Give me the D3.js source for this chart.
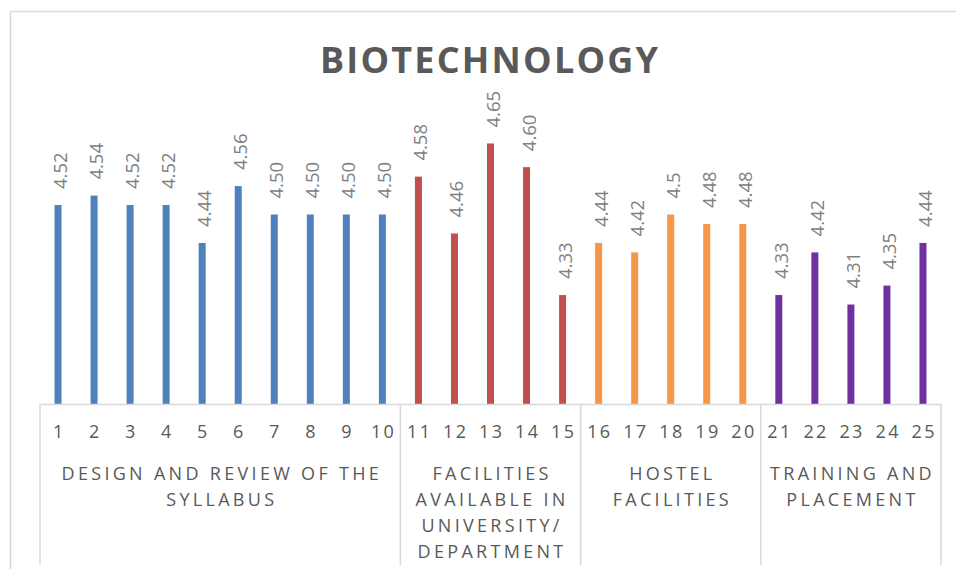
<!DOCTYPE html>
<html>
<head>
<meta charset="utf-8">
<script src="https://cdn.jsdelivr.net/npm/d3@7"></script>
<style>
  html, body { margin: 0; padding: 0; background: #ffffff; }
  svg { display: block; }
  text { font-family: "Open Sans", "Liberation Sans", sans-serif; }
</style>
</head>
<body>
<svg id="chart" width="956" height="569"></svg>
<script>
// ---- data ----
const title = "BIOTECHNOLOGY";
const categories = ["1","2","3","4","5","6","7","8","9","10","11","12","13","14","15","16","17","18","19","20","21","22","23","24","25"];
const values = [4.52,4.54,4.52,4.52,4.44,4.56,4.50,4.50,4.50,4.50,4.58,4.46,4.65,4.60,4.33,4.44,4.42,4.5,4.48,4.48,4.33,4.42,4.31,4.35,4.44];
const valueLabels = ["4.52","4.54","4.52","4.52","4.44","4.56","4.50","4.50","4.50","4.50","4.58","4.46","4.65","4.60","4.33","4.44","4.42","4.5","4.48","4.48","4.33","4.42","4.31","4.35","4.44"];
const groupNames = [
  ["DESIGN AND REVIEW OF THE", "SYLLABUS"],
  ["FACILITIES", "AVAILABLE IN", "UNIVERSITY/", "DEPARTMENT"],
  ["HOSTEL", "FACILITIES"],
  ["TRAINING AND", "PLACEMENT"]
];
const groupSizes = [10, 5, 5, 5];
const groupColors = ["#4f81bd", "#c0504d", "#f79646", "#7030a0"];
const yDomain = [4.1, 4.7];

// ---- layout ----
const svg = d3.select("#chart");
const axisY = 404;
const x = d3.scaleBand().domain(categories).range([40, 941]).paddingInner(0).paddingOuter(0);
const y = d3.scaleLinear().domain(yDomain).range([axisY, axisY - 0.6 * 473.7]);

// group index per category
const groupOf = [];
groupSizes.forEach((n, gi) => { for (let i = 0; i < n; i++) groupOf.push(gi); });

// chart border (top + left visible)
svg.append("path")
  .attr("d", "M10.5,569 L10.5,11.5 L956,11.5")
  .attr("fill", "none").attr("stroke", "#d9d9d9").attr("stroke-width", 1.5);

// title
svg.append("text")
  .attr("x", 489).attr("y", 72.5)
  .attr("text-anchor", "middle")
  .attr("font-size", 36).attr("font-weight", 700)
  .attr("fill", "#595959")
  .attr("textLength", 338).attr("lengthAdjust", "spacing")
  .text(title);

// bars
const barW = 7;
svg.append("g").selectAll("rect")
  .data(values)
  .join("rect")
  .attr("x", (d, i) => x(categories[i]) + x.bandwidth() / 2 - barW / 2)
  .attr("y", d => y(d))
  .attr("width", barW)
  .attr("height", d => axisY - y(d))
  .attr("fill", (d, i) => groupColors[groupOf[i]]);

// value labels (rotated)
svg.append("g").selectAll("text")
  .data(values)
  .join("text")
  .attr("transform", (d, i) => `translate(${x(categories[i]) + x.bandwidth() / 2 + 1.5},${y(d) - 16}) rotate(-90)`)
  .attr("text-anchor", "start")
  .attr("dominant-baseline", "central")
  .attr("font-size", 18.5)
  .attr("fill", "#808080")
  .text((d, i) => valueLabels[i]);

// category axis (numbers)
const axis = d3.axisBottom(x).tickSize(0).tickPadding(0).tickSizeOuter(0);
const gAxis = svg.append("g").attr("transform", `translate(0,${axisY})`).call(axis);
gAxis.select(".domain").attr("stroke", "#d9d9d9").attr("stroke-width", 1.5);
gAxis.selectAll(".tick text")
  .attr("y", 34)
  .attr("dy", 0)
  .attr("dx", 1.2)
  .attr("font-family", "'Open Sans', sans-serif")
  .attr("font-size", 18)
  .attr("letter-spacing", "2.4px")
  .attr("fill", "#595959");

// group separators
const bounds = [0];
groupSizes.forEach(n => bounds.push(bounds[bounds.length - 1] + n));
const sepX = bounds.map(b => b < categories.length ? x(categories[b]) : x(categories[categories.length - 1]) + x.bandwidth());
svg.append("g").selectAll("line")
  .data(sepX)
  .join("line")
  .attr("x1", d => d).attr("x2", d => d)
  .attr("y1", axisY).attr("y2", 565)
  .attr("stroke", "#d9d9d9").attr("stroke-width", 1.5);

// group labels
const gl = svg.append("g");
groupNames.forEach((lines, gi) => {
  const cx = (sepX[gi] + sepX[gi + 1]) / 2;
  lines.forEach((ln, li) => {
    gl.append("text")
      .attr("x", cx + 1.6)
      .attr("y", 480 + li * 26)
      .attr("text-anchor", "middle")
      .attr("font-size", 18)
      .attr("letter-spacing", "3.3px")
      .attr("fill", "#595959")
      .text(ln);
  });
});
</script>
</body>
</html>
